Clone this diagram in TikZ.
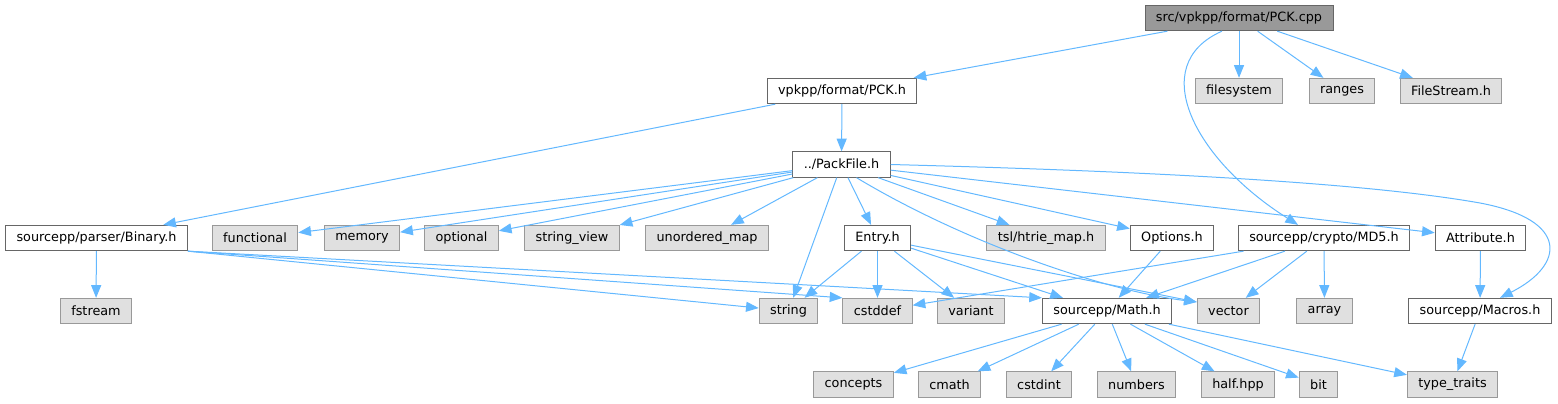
\documentclass[tikz,border=0pt]{standalone}
\usepackage{fontspec}
\setmainfont{DejaVu Sans}
\usepackage{xcolor}
\usepackage{tikz}
\usetikzlibrary{arrows.meta,positioning,calc}

\definecolor{edgeblue}{HTML}{63B8FF}
\definecolor{boxline}{HTML}{666666}
\definecolor{sysline}{HTML}{999999}
\definecolor{sysfill}{HTML}{E0E0E0}
\definecolor{rootfill}{HTML}{999999}

\begin{document}
\begin{tikzpicture}[
    x=0.75pt, y=-0.75pt,
    font=\fontsize{9.6}{11}\selectfont,
    header/.style={rectangle, draw=boxline, fill=white, line width=0.75pt, minimum height=19pt, inner xsep=8.2pt, inner ysep=0pt, text=black},
    sysheader/.style={header, draw=sysline, fill=sysfill},
    rootfile/.style={header, fill=rootfill},
    arrow/.style={-{Triangle[length=9.5pt,width=7.5pt]}, color=edgeblue, line width=0.75pt}
]
\useasboundingbox (0,0) rectangle (1558,403);

% Source file
\node[rootfile] (pckcpp) at (1239,18) {src/vpkpp/format/PCK.cpp};

% First level
\node[header] (pckh) at (842,91) {vpkpp/format/PCK.h};
\node[sysheader] (filesystem) at (1239,91) {filesystem};
\node[sysheader] (ranges) at (1342,91) {ranges};
\node[sysheader] (filestream) at (1451,91) {FileStream.h};

\node[header] (packfile) at (841.5,164.5) {../PackFile.h};

% Headers pulled in by PackFile.h
\node[header] (binary) at (96.5,238) {sourcepp/parser/Binary.h};
\node[sysheader] (functional) at (255,238) {functional};
\node[sysheader] (memory) at (362,238) {memory};
\node[sysheader] (optional) at (461.5,238) {optional};
\node[sysheader] (stringview) at (572,238) {string\_view};
\node[sysheader] (unorderedmap) at (707,238) {unordered\_map};
\node[header] (entry) at (877.5,238) {Entry.h};
\node[sysheader] (htrie) at (1046,238) {tsl/htrie\_map.h};
\node[header] (options) at (1172,238) {Options.h};
\node[header] (md5) at (1324,238) {sourcepp/crypto/MD5.h};
\node[header] (attribute) at (1480.5,238) {Attribute.h};

% Lower level
\node[sysheader] (fstream) at (96,311) {fstream};
\node[sysheader] (string) at (788.5,311) {string};
\node[sysheader] (cstddef) at (877.5,311) {cstddef};
\node[sysheader] (variant) at (971,311) {variant};
\node[header] (math) at (1107,311) {sourcepp/Math.h};
\node[sysheader] (vector) at (1228.5,311) {vector};
\node[sysheader] (array) at (1324.5,311) {array};
\node[header] (macros) at (1480,311) {sourcepp/Macros.h};

% Headers pulled in by Math.h
\node[sysheader] (concepts) at (853.5,384.5) {concepts};
\node[sysheader] (cmath) at (949.5,384.5) {cmath};
\node[sysheader] (cstdint) at (1039,384.5) {cstdint};
\node[sysheader] (numbers) at (1136.5,384.5) {numbers};
\node[sysheader] (halfhpp) at (1238,384.5) {half.hpp};
\node[sysheader] (bit) at (1318.5,384.5) {bit};
\node[sysheader] (typetraits) at (1452.5,384.5) {type\_traits};

% Includes of PCK.cpp
\draw[arrow] (pckcpp) -- (pckh);
\draw[arrow] (pckcpp) -- (filesystem);
\draw[arrow] (pckcpp) -- (ranges);
\draw[arrow] (pckcpp) -- (filestream);
\draw[arrow] ($(pckcpp.south)+(-17,0)$) .. controls (1145,65) and (1195,160) .. ($(md5.north)+(-26,0)$);

% Includes of PCK.h
\draw[arrow] (pckh) -- (packfile);
\draw[arrow] (pckh) -- (binary);

% Includes of PackFile.h
\draw[arrow] (packfile) -- (functional);
\draw[arrow] (packfile) -- (memory);
\draw[arrow] (packfile) -- (optional);
\draw[arrow] (packfile) -- (stringview);
\draw[arrow] (packfile) -- (unorderedmap);
\draw[arrow] (packfile) -- (string);
\draw[arrow] (packfile) -- (entry);
\draw[arrow] (packfile) -- (htrie);
\draw[arrow] (packfile) -- (options);
\draw[arrow] (packfile) -- (attribute);
\draw[arrow] ($(packfile.south)+(15,0)$) .. controls (960,240) and (1100,290) .. ($(vector.west)+(0,-9)$);
\draw[arrow] (packfile.east) .. controls (1100,170) and (1350,180) .. (1480,203)
    .. controls (1570,220) and (1565,265) .. ($(macros.north)+(20,0)$);

% Includes of Binary.h
\draw[arrow] (binary) -- (fstream);
\draw[arrow] (binary.south east) -- (string);
\draw[arrow] (binary.south east) -- (cstddef.north west);
\draw[arrow] (binary.south east) -- (math.north west);

% Includes of Entry.h
\draw[arrow] (entry) -- (string);
\draw[arrow] (entry) -- (cstddef);
\draw[arrow] (entry) -- (variant);
\draw[arrow] ($(entry.south east)+(0,-3)$) -- ($(math.north west)+(21,0)$);
\draw[arrow] ($(entry.south east)+(0,-6)$) -- ($(vector.west)+(0,-9)$);

% Options.h, MD5.h and Attribute.h
\draw[arrow] (options) -- (math);
\draw[arrow] (md5) -- (cstddef);
\draw[arrow] (md5) -- (math);
\draw[arrow] (md5) -- (vector);
\draw[arrow] (md5) -- (array);
\draw[arrow] (attribute) -- (macros);

% Includes of Math.h and Macros.h
\draw[arrow] (math) -- (concepts);
\draw[arrow] (math) -- (cmath);
\draw[arrow] (math) -- (cstdint);
\draw[arrow] (math) -- (numbers);
\draw[arrow] (math) -- (halfhpp);
\draw[arrow] (math) -- (bit);
\draw[arrow] (math) -- (typetraits);
\draw[arrow] (macros) -- (typetraits);

\end{tikzpicture}
\end{document}
